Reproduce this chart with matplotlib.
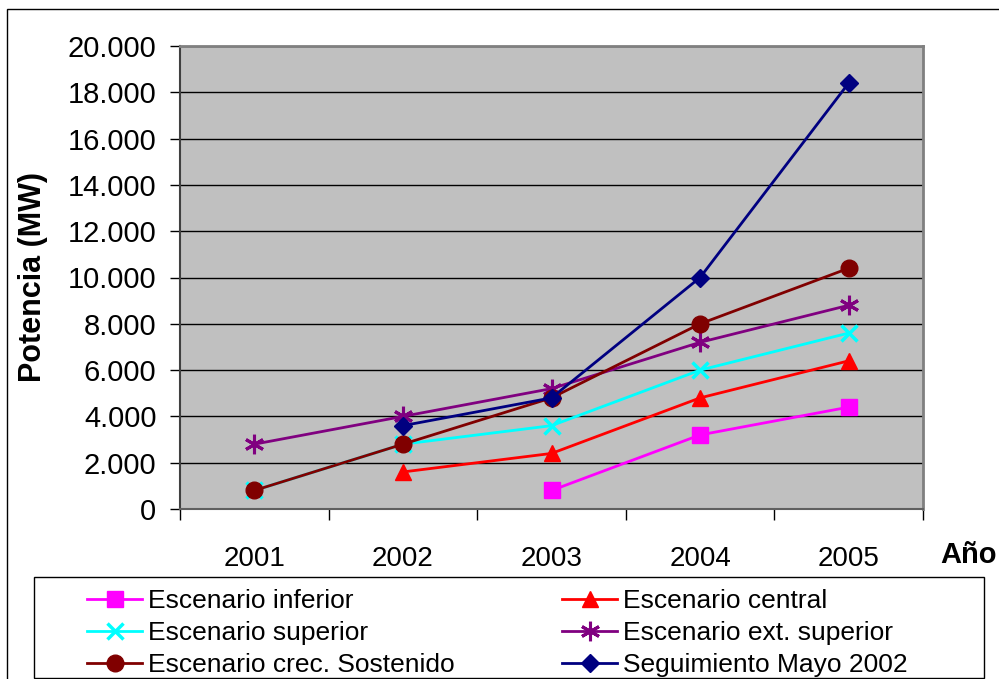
import numpy as np
import matplotlib
matplotlib.use("Agg")
import matplotlib.pyplot as plt
from matplotlib.ticker import FuncFormatter, FixedLocator
from matplotlib.patches import Rectangle

plt.rcParams['font.family'] = ['Liberation Sans', 'DejaVu Sans']

# datos (MW)
anios = ['2001', '2002', '2003', '2004', '2005']
nan = np.nan
inferior = [nan, nan, 800, 3200, 4400]
central = [nan, 1600, 2400, 4800, 6400]
superior = [800, 2800, 3600, 6000, 7600]
ext_superior = [2800, 4000, 5200, 7200, 8800]
crec_sostenido = [800, 2800, 4800, 8000, 10400]
seguimiento = [nan, 3600, 4800, 10000, 18400]

series = [
    ("Escenario inferior", inferior, '#FF00FF', 's', 11, 1),
    ("Escenario central", central, '#FF0000', '^', 12, 1),
    ("Escenario superior", superior, '#00FFFF', 'x', 12, 2.5),
    ("Escenario ext. superior", ext_superior, '#800080', (6, 2, 0), 14, 2.2),
    ("Escenario crec. Sostenido", crec_sostenido, '#800000', 'o', 12, 1),
    ("Seguimiento Mayo 2002", seguimiento, '#000080', 'D', 9, 1),
]

fig = plt.figure(figsize=(9.99, 6.79), dpi=100)
ax = fig.add_axes([180/999, 1-509/679, (923-180)/999, (509-46)/679])
ax.set_facecolor('#C0C0C0')

x = np.arange(len(anios))
lineas = []
for nombre, vals, col, mk, ms, mew in series:
    v = np.array(vals, dtype=float)
    ok = ~np.isnan(v)
    l, = ax.plot(x[ok], v[ok], color=col, lw=2.0, marker=mk, markersize=ms,
                 markeredgewidth=mew, markeredgecolor=col, markerfacecolor=col,
                 label=nombre, zorder=3)
    lineas.append(l)

ax.set_xlim(-0.5, len(anios)-0.5)
ax.set_ylim(0, 20000)
ax.set_yticks(np.arange(0, 20001, 2000))
ax.yaxis.set_major_formatter(FuncFormatter(lambda v, p: f"{int(v):,}".replace(',', '.')))
ax.yaxis.grid(True, color='black', lw=1)
ax.set_axisbelow(True)

ax.xaxis.set_major_locator(FixedLocator(np.arange(-0.5, len(anios), 1.0)))
ax.xaxis.set_major_formatter(FuncFormatter(lambda v, p: ''))
ax.xaxis.set_minor_locator(FixedLocator(x))
ax.set_xticklabels(anios, minor=True)
ax.tick_params(axis='x', which='major', direction='out', length=8, width=1, color='black')
ax.tick_params(axis='x', which='minor', length=0, pad=27, labelsize=20)
ax.tick_params(axis='y', direction='out', length=7, width=1, labelsize=21, pad=10)

for s in ['top', 'right']:
    ax.spines[s].set_color('#808080')
    ax.spines[s].set_linewidth(2)
ax.spines['left'].set_color('#404040')
ax.spines['bottom'].set_color('#606060')
ax.spines['left'].set_linewidth(1.5)
ax.spines['bottom'].set_linewidth(1.5)

ax.set_ylabel("Potencia (MW)", fontsize=22, fontweight='bold', labelpad=14)
fig.text(940/999, 1-555/679, "Año", fontsize=21, fontweight='bold', va='center', ha='left')

# leyenda: dos columnas, ordenadas por filas
kw = dict(loc='upper left', fontsize=19, frameon=False, handlelength=2.1,
          handletextpad=0.2, labelspacing=0.3, borderpad=0, borderaxespad=0)
col1 = lineas[0::2]
col2 = lineas[1::2]
fig.legend(col1, [l.get_label() for l in col1], bbox_to_anchor=(87/999, 1-589/679), **kw)
fig.legend(col2, [l.get_label() for l in col2], bbox_to_anchor=(562/999, 1-589/679), **kw)
fig.patches.append(Rectangle((34/999, 1-678/679), (984-34)/999, (678-577)/679,
                             transform=fig.transFigure, fill=False,
                             edgecolor='black', lw=1))

fig.patches.append(Rectangle((7/999, -0.05), 1.1, 1-9/679+0.05, transform=fig.transFigure,
                             fill=False, edgecolor='black', lw=1))

fig.savefig("out.png", dpi=100)
